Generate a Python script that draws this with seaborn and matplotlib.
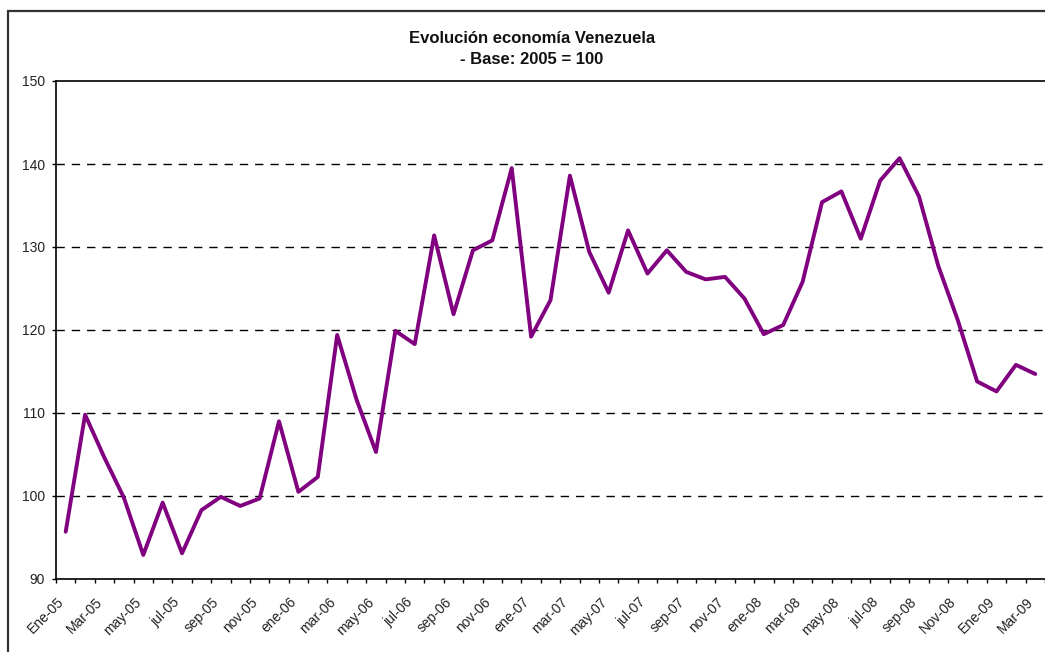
import matplotlib
matplotlib.use("Agg")
import matplotlib.pyplot as plt
import matplotlib.transforms as mtransforms
import seaborn as sns
import pandas as pd
import numpy as np
from matplotlib.patches import Rectangle
from matplotlib.ticker import FixedLocator

# ---- data ----
months = (
    ["Ene-05", "feb-05", "Mar-05", "abr-05", "may-05", "jun-05", "jul-05", "ago-05", "sep-05", "oct-05", "nov-05", "dic-05"]
    + ["ene-06", "feb-06", "mar-06", "abr-06", "may-06", "jun-06", "jul-06", "ago-06", "sep-06", "oct-06", "nov-06", "dic-06"]
    + ["ene-07", "feb-07", "mar-07", "abr-07", "may-07", "jun-07", "jul-07", "ago-07", "sep-07", "oct-07", "nov-07", "dic-07"]
    + ["ene-08", "feb-08", "mar-08", "abr-08", "may-08", "jun-08", "jul-08", "ago-08", "sep-08", "oct-08", "Nov-08", "dic-08"]
    + ["Ene-09", "feb-09", "Mar-09"]
)
index_values = [
    95.7, 109.8, 104.6, 99.8, 92.9, 99.2, 93.1, 98.3, 99.9, 98.8, 99.7, 109.0,
    100.5, 102.3, 119.4, 111.6, 105.3, 119.9, 118.3, 131.4, 121.9, 129.6, 130.8, 139.5,
    119.2, 123.6, 138.6, 129.4, 124.5, 132.0, 126.8, 129.6, 127.0, 126.1, 126.4, 123.8,
    119.5, 120.6, 125.8, 135.4, 136.7, 131.0, 138.0, 140.7, 136.1, 127.7, 121.2, 113.8,
    112.6, 115.8, 114.7,
]
tick_labels = [
    "Ene-05", "Mar-05", "may-05", "jul-05", "sep-05", "nov-05",
    "ene-06", "mar-06", "may-06", "jul-06", "sep-06", "nov-06",
    "ene-07", "mar-07", "may-07", "jul-07", "sep-07", "nov-07",
    "ene-08", "mar-08", "may-08", "jul-08", "sep-08", "Nov-08",
    "Ene-09", "Mar-09",
]
y_ticks = [90, 100, 110, 120, 130, 140, 150]
title = "Evolución economía Venezuela\n- Base: 2005 = 100"

df = pd.DataFrame({"pos": np.arange(len(months)), "mes": months, "valor": index_values})

# ---- style ----
sns.set_style("white")
plt.rcParams["font.family"] = ["Liberation Sans", "DejaVu Sans"]

fig = plt.figure(figsize=(10.45, 6.52), dpi=100)
ax = fig.add_axes([56 / 1045, 1 - 579 / 652, (1045 - 56) / 1045, (579 - 81) / 652])

sns.lineplot(data=df, x="pos", y="valor", ax=ax, color="#800080", linewidth=2.8, legend=False)

ax.set_xlim(-0.5, len(months) - 0.5)
ax.set_ylim(90, 150)
ax.set_xlabel("")
ax.set_ylabel("")

# y axis
ax.yaxis.set_major_locator(FixedLocator(y_ticks))
ax.set_yticklabels([str(v) for v in y_ticks], fontsize=10, color="#222222")
ax.tick_params(axis="y", which="major", direction="out", length=3, width=1, color="black", pad=5, left=True)

# x axis: ticks between categories, labels every second month
ax.set_xticks(np.arange(0, len(months), 2))
ax.set_xticklabels(tick_labels, rotation=45, ha="right", rotation_mode="anchor", fontsize=10, color="#222222")
ax.tick_params(axis="x", which="major", length=0, pad=10)
offset = mtransforms.ScaledTranslation(-9 / 100, -2 / 100, fig.dpi_scale_trans)
for lbl in ax.get_xticklabels():
    lbl.set_transform(lbl.get_transform() + offset)
ax.xaxis.set_minor_locator(FixedLocator(np.arange(-0.5, len(months) + 0.5, 1)))
ax.tick_params(axis="x", which="minor", direction="out", length=3, width=1, color="black", bottom=True)

# grid
for v in y_ticks[1:-1]:
    ax.axhline(v, color="black", linestyle=(0, (6, 5)), linewidth=1.0, zorder=0)

for side in ["left", "bottom", "top"]:
    ax.spines[side].set_visible(True)
    ax.spines[side].set_color("black")
    ax.spines[side].set_linewidth(1.2)
ax.spines["right"].set_visible(False)

# title
fig.text(532 / 1045, 1 - 49 / 652, title, ha="center", va="center",
         fontsize=12, fontweight="bold", linespacing=1.45, color="#111111")

# outer chart frame (cropped at right and bottom)
frame = Rectangle((8 / 1045, -0.1), 1.2, 1 - 11 / 652 + 0.1, transform=fig.transFigure,
                  fill=False, edgecolor="#333333", linewidth=1.6, clip_on=False)
fig.patches.append(frame)

fig.savefig("out.png", dpi=100)
